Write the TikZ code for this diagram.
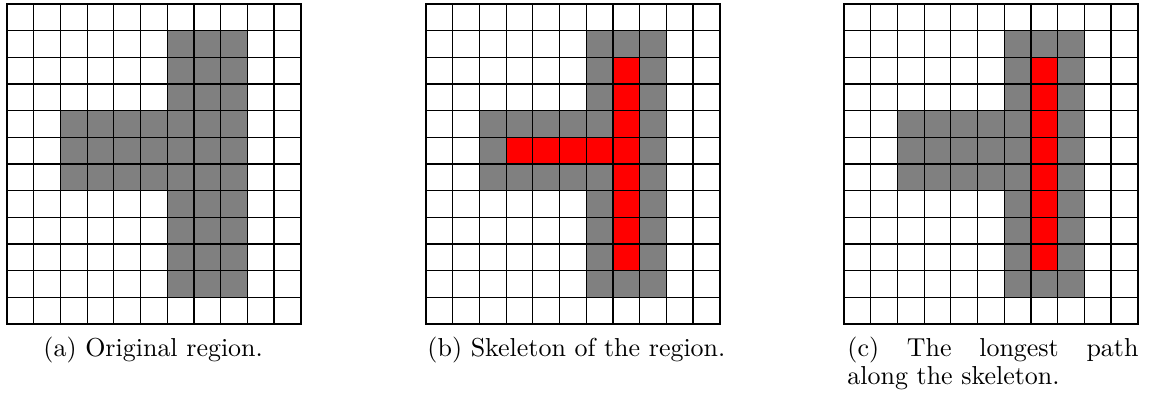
\documentclass[tikz,border=0pt]{standalone}
\usepackage{tikz}

\begin{document}
\begin{tikzpicture}[
    x=0.014556cm, y=-0.014556cm,
    region/.style={fill=gray},
    skel/.style={fill=red},
    gridline/.style={line width=0.5pt},
    frame/.style={line width=0.9pt},
    subcap/.style={anchor=base west, inner sep=0pt,
    font=\fontsize{10.75}{12}\selectfont}
]
\useasboundingbox (0,0) rectangle (1150,396);
% (a) original region
\begin{scope}[shift={(7,4)}, x=0.3887cm, y=-0.3883cm]
  \fill[region] (6,1) rectangle (9,11);
  \fill[region] (2,4) rectangle (6,7);
  \foreach \i in {1,...,10} \draw[gridline] (\i,0) -- (\i,12);
  \foreach \j in {1,...,11} \draw[gridline] (0,\j) -- (11,\j);
  \draw[frame] (0,0) rectangle (11,12);
\end{scope}
% (b) skeleton
\begin{scope}[shift={(426,4)}, x=0.3887cm, y=-0.3883cm]
  \fill[region] (6,1) rectangle (9,11);
  \fill[region] (2,4) rectangle (6,7);
  \fill[skel] (7,2) rectangle (8,10);
  \fill[skel] (3,5) rectangle (7,6);
  \foreach \i in {1,...,10} \draw[gridline] (\i,0) -- (\i,12);
  \foreach \j in {1,...,11} \draw[gridline] (0,\j) -- (11,\j);
  \draw[frame] (0,0) rectangle (11,12);
\end{scope}
% (c) longest path
\begin{scope}[shift={(844,4)}, x=0.3887cm, y=-0.3883cm]
  \fill[region] (6,1) rectangle (9,11);
  \fill[region] (2,4) rectangle (6,7);
  \fill[skel] (7,2) rectangle (8,10);
  \foreach \i in {1,...,10} \draw[gridline] (\i,0) -- (\i,12);
  \foreach \j in {1,...,11} \draw[gridline] (0,\j) -- (11,\j);
  \draw[frame] (0,0) rectangle (11,12);
\end{scope}
\node[subcap] (capa) at (43,356) {(a) Original region.};
\node[subcap] (capb) at (427,356) {(b) Skeleton of the region.};
\node[subcap, text width=4.236cm, align=justify] (capc) at (847,356)
  {(c) The longest path along the skeleton.};
\end{tikzpicture}
\end{document}
